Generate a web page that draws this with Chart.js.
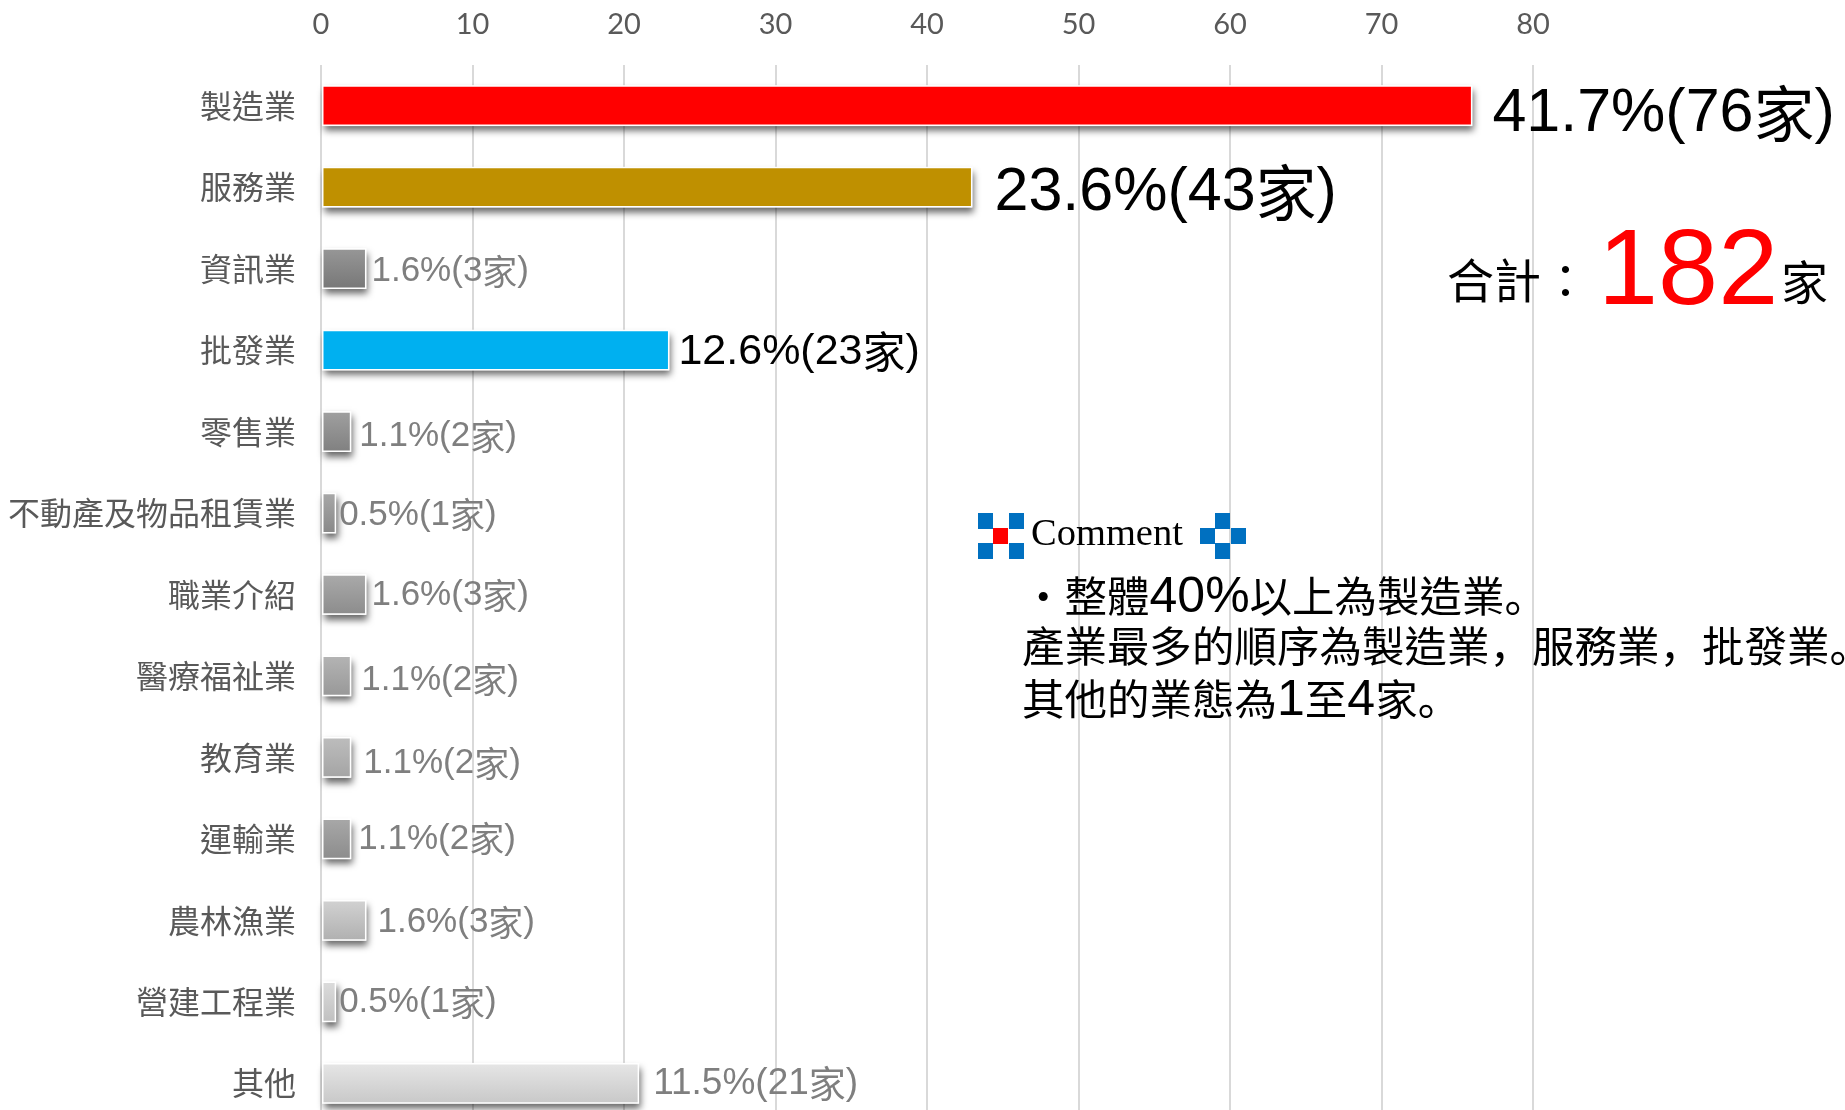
<!DOCTYPE html>
<html>
<head>
<meta charset="utf-8">
<script src="https://cdn.jsdelivr.net/npm/chart.js@4/dist/chart.umd.min.js"></script>
<style>
  html, body { margin: 0; background: #fff; overflow: hidden; }
  #wrap { position: relative; width: 1845px; height: 1110px; overflow: hidden; }
  canvas { position: absolute; left: 0; top: 0; }
  .note { position: absolute; white-space: nowrap; color: #000; font-family: "Noto Sans CJK TC"; line-height: 1; }
  .body { font-size: 42.5px; }
  .num { font-family: "Liberation Sans"; font-size: 50px; }
  .p { font-family: "Noto Sans CJK SC"; }
  .cell { position: absolute; width: 15px; height: 16px; background: #0070c0; }
</style>
</head>
<body>
<div id="wrap">
  <canvas id="chart" width="1845" height="1124"></canvas>

  <div class="note" style="left:1447px;top:254px;font-size:47px">合計</div>
  <div class="note" style="left:1542px;top:254px;font-size:47px">：</div>
  <div class="note" style="left:1598px;top:213px;font-size:108px;font-family:'Liberation Sans';color:#f00">182</div>
  <div class="note" style="left:1781px;top:256px;font-size:47px">家</div>

  <div class="cell" style="left:978px;top:513px"></div>
  <div class="cell" style="left:1009px;top:513px"></div>
  <div class="cell" style="left:978px;top:543px"></div>
  <div class="cell" style="left:1009px;top:543px"></div>
  <div class="cell" style="left:993px;top:528px;background:#f00"></div>
  <div class="cell" style="left:1215px;top:513px"></div>
  <div class="cell" style="left:1200px;top:528px"></div>
  <div class="cell" style="left:1231px;top:528px"></div>
  <div class="cell" style="left:1215px;top:543px"></div>
  <div class="note" style="left:1031px;top:513px;font-size:38.5px;font-family:'Liberation Serif'">Comment</div>

  <div class="note body" style="left:1022px;top:570px">・整體<span class="num">40%</span>以上為製造業<span class="p">。</span></div>
  <div class="note body" style="left:1022px;top:623px">產業最多的順序為製造業<span class="p">，</span>服務業<span class="p">，</span>批發業<span class="p">。</span></div>
  <div class="note body" style="left:1022px;top:673px">其他的業態為<span class="num">1</span>至<span class="num">4</span>家<span class="p">。</span></div>
</div>

<script>
// Industry breakdown, 182 companies in total
const categories = ['製造業', '服務業', '資訊業', '批發業', '零售業', '不動產及物品租賃業', '職業介紹', '醫療福祉業', '教育業', '運輸業', '農林漁業', '營建工程業', '其他'];
const counts = [76, 43, 3, 23, 2, 1, 3, 2, 2, 2, 3, 1, 21];
const shares = ['41.7', '23.6', '1.6', '12.6', '1.1', '0.5', '1.6', '1.1', '1.1', '1.1', '1.6', '0.5', '11.5'];
const xTicks = [0, 10, 20, 30, 40, 50, 60, 70, 80];

// bar fill, top and bottom of the gradient
const barColors = [
  ['#ff0000', '#ff0000'], ['#bf9000', '#bf9000'], ['#979797', '#777777'], ['#00b0f0', '#00b0f0'],
  ['#a0a0a0', '#808080'], ['#a8a8a8', '#888888'], ['#aaaaaa', '#8c8c8c'], ['#b4b4b4', '#989898'],
  ['#bdbdbd', '#a4a4a4'], ['#a8a8a8', '#8c8c8c'], ['#d2d2d2', '#b0b0b0'], ['#dcdcdc', '#c0c0c0'],
  ['#e6e6e6', '#c8c8c8']
];

// value label looks: font size, gap from the bar end, vertical shift
const labelSizes = [61, 61, 35, 43, 35, 35, 35, 35, 35, 35, 35, 35, 37];
const labelGaps = [20, 22, 5, 9, 8, 3, 5, 10, 12, 7, 11, 3, 14];
const labelShifts = [8, 6, 3, 2, 5, 2, 1, 4, 6, 0, 2, 1, 1];
const darkLabels = [0, 1, 3];

const valueLabels = {
  id: 'valueLabels',
  afterDatasetsDraw(chart) {
    const ctx = chart.ctx;
    const meta = chart.getDatasetMeta(0);
    ctx.save();
    ctx.textBaseline = 'middle';
    ctx.textAlign = 'left';
    meta.data.forEach((bar, i) => {
      let x = bar.x + labelGaps[i];
      const y = bar.y + labelShifts[i];
      const size = labelSizes[i];
      ctx.fillStyle = darkLabels.includes(i) ? '#000000' : '#7f7f7f';
      // latin part and the 家 use different fonts
      ctx.font = size + 'px "Liberation Sans"';
      const before = shares[i] + '%(' + counts[i];
      ctx.fillText(before, x, y);
      x += ctx.measureText(before).width;
      ctx.font = size + 'px "Noto Sans CJK TC"';
      ctx.fillText('家', x, y);
      x += ctx.measureText('家').width;
      ctx.font = size + 'px "Liberation Sans"';
      ctx.fillText(')', x, y);
    });
    ctx.restore();
  }
};

// BarElement clips to its own box, so the drop shadow has to go down first
const barShadow = {
  id: 'barShadow',
  beforeDatasetDraw(chart) {
    const ctx = chart.ctx;
    ctx.save();
    ctx.shadowColor = 'rgba(0,0,0,0.6)';
    ctx.shadowBlur = 7;
    ctx.shadowOffsetX = 2;
    ctx.shadowOffsetY = 5;
    ctx.fillStyle = '#ffffff';
    chart.getDatasetMeta(0).data.forEach((bar) => {
      ctx.fillRect(bar.base, bar.y - bar.height / 2, bar.x - bar.base, bar.height);
    });
    ctx.restore();
  }
};

function barFill(context) {
  const colors = barColors[context.dataIndex];
  const yScale = context.chart.scales.y;
  if (!yScale || context.dataIndex === undefined) {
    return colors[0];
  }
  const center = yScale.getPixelForValue(context.dataIndex);
  const half = yScale.height / categories.length / 4;
  // scales have no size yet on the first options pass
  if (!Number.isFinite(center) || !Number.isFinite(half)) {
    return colors[0];
  }
  const gradient = context.chart.ctx.createLinearGradient(0, center - half, 0, center + half);
  gradient.addColorStop(0, colors[0]);
  gradient.addColorStop(1, colors[1]);
  return gradient;
}

new Chart(document.getElementById('chart').getContext('2d'), {
  type: 'bar',
  data: {
    labels: categories,
    datasets: [{
      data: counts,
      backgroundColor: barFill,
      borderColor: '#ffffff',
      borderWidth: 1.5,
      borderSkipped: false,
      barPercentage: 0.5,
      categoryPercentage: 1
    }]
  },
  options: {
    indexAxis: 'y',
    responsive: false,
    animation: false,
    layout: { autoPadding: false, padding: { right: 9 } },
    plugins: { legend: { display: false }, tooltip: { enabled: false } },
    scales: {
      x: {
        position: 'top',
        min: 0,
        max: 100,
        afterFit(scale) {
          scale.height = 65;
          scale.paddingLeft = 0;
          scale.paddingRight = 0;
        },
        border: { display: false },
        grid: {
          drawTicks: false,
          lineWidth: 2,
          color: (c) => xTicks.includes(c.tick.value) ? '#d9d9d9' : 'rgba(0,0,0,0)'
        },
        ticks: {
          stepSize: 10,
          autoSkip: false,
          maxRotation: 0,
          padding: 23,
          color: '#595959',
          font: { family: 'Lato', size: 29 },
          callback: (v) => xTicks.includes(v) ? v : ''
        }
      },
      y: {
        afterFit(scale) {
          scale.width = 321;
          scale.paddingTop = 0;
          scale.paddingBottom = 0;
        },
        border: { display: false },
        grid: { display: false, drawTicks: false },
        ticks: {
          autoSkip: false,
          padding: 25,
          color: '#595959',
          font: { family: '"Noto Sans CJK TC"', size: 32 }
        }
      }
    }
  },
  plugins: [barShadow, valueLabels]
});
</script>
</body>
</html>
